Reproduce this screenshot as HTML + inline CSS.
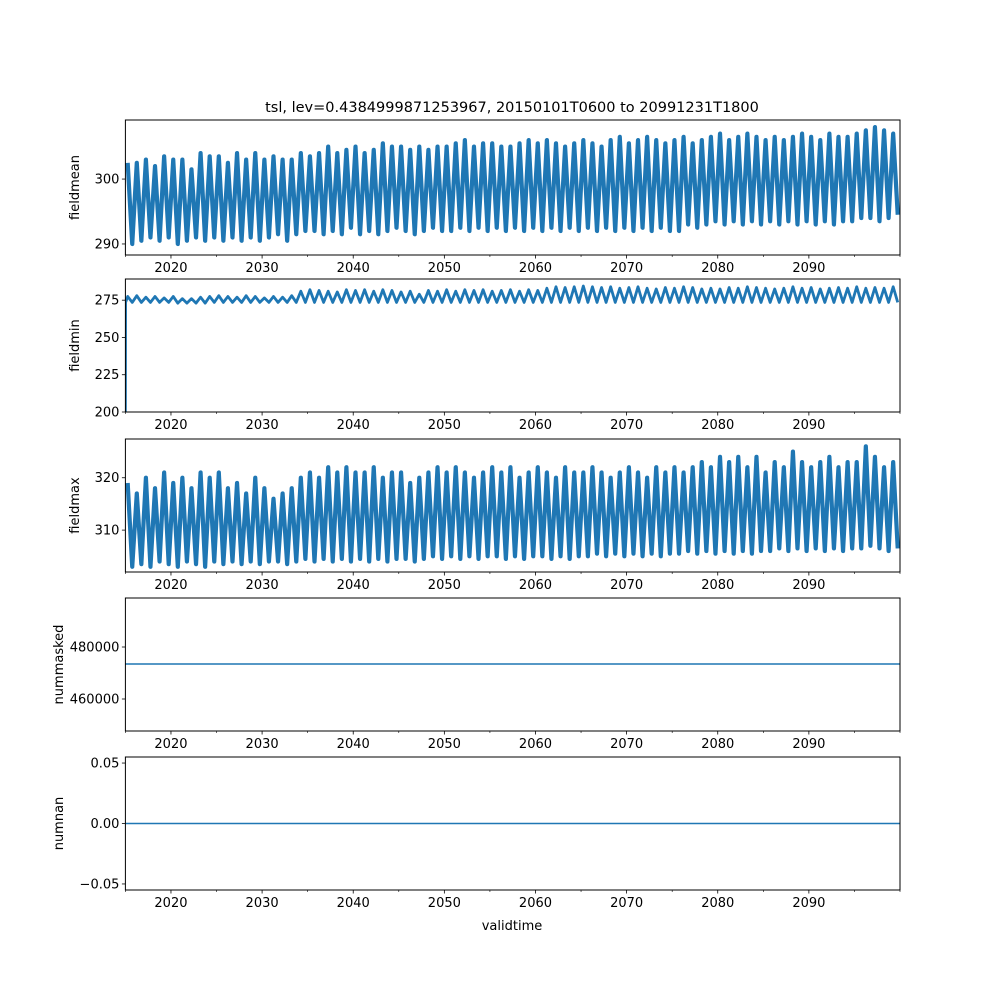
<!DOCTYPE html>
<html><head><meta charset="utf-8"><style>
body{margin:0;background:#fff}
svg{display:block;font-family:"DejaVu Sans","Liberation Sans",sans-serif}
</style></head><body>
<svg id="fig" width="1000" height="1000" viewBox="0 0 1000 1000">
<text x="512" y="112" text-anchor="middle" font-size="14.5">tsl, lev=0.4384999871253967, 20150101T0600 to 20991231T1800</text>
<text x="512" y="930" text-anchor="middle" font-size="13">validtime</text>
</svg>
<script>
const years=[];for(let y=2015;y<=2099;y++)years.push(y);
const xMajor=[2020,2030,2040,2050,2060,2070,2080,2090];
const xMinor=[2015,2025,2035,2045,2055,2065,2075,2085,2095,2100];
const meanMax=[302.5,302.5,303,302,303.5,303,303,301.5,304,303.5,303.5,302.5,304,303,304,303,303.5,303,303,304,303.5,304,305,304,304.5,305,304,304.5,305.5,305,305,304.5,305,304.5,305,305,305.5,306,305,305.5,305.5,305,305,305.5,306,305.5,306,305.5,305,305.5,306,305.5,305,306,306.5,305.5,306,306.5,306,305.5,306,306.5,305.5,306,306.5,307,306,306.5,307,306.5,306,306.5,306,306.5,307,306.5,306,307,306.5,306.5,307,307.5,308,307.5,307];
const meanMin=[290,290.5,291,290.5,291,290,290.5,291,290.5,291,290.5,291,290.5,291,290.5,291,291.5,290.5,291.5,292,292,291.5,292,291.5,292.5,291.5,292,291.5,292,292.5,292,291.5,292,292.5,292,292,292.5,292,292.5,292,292.5,292,292.5,292,292.5,292,292.5,292,292.5,292,292.5,292,292.5,292,292.5,292,292.5,292,292.5,292,292,293,292.5,293,293.5,293,293.5,293,293.5,293,293.5,293,293.5,293,293.5,293,293.5,293,293.5,293.5,294,294,293.5,294,294.5];
const minMax=[277.5,278,277,277.5,276.5,277.5,276,276,277,277.5,278,277.5,277,278,277.5,276.5,277.5,277,278,281,282,281.5,281,280.5,282,281.5,282,281,282,281.5,280.5,281,279,281.5,281,282,281,282,281.5,282,281,281.5,282,281,282,281.5,283,284,283.5,284,284.5,284,283.5,284,283,283.5,284,283,282.5,283.5,283,284,283.5,282.5,283,282.5,283.5,283,284,283.5,283,282.5,283,284,283,283.5,282.5,283,283.5,283,284,283,283.5,283,284];
const minMin=[273.5,273.5,273.5,273.5,273.5,273,273,273,273,273.5,273.5,273.5,273.5,273.5,273.5,273.5,273.5,273.5,273.5,273.5,273.5,273.5,273.5,273.5,273.5,273.5,273.5,273.5,273.5,273.5,273.5,273.5,273.5,273.5,273.5,273.5,273.5,273.5,273.5,273.5,273.5,273.5,273.5,273.5,273.5,273.5,273.5,273.5,273.5,273.5,273.5,273.5,273.5,273.5,273.5,273.5,273.5,273.5,273.5,273.5,273.5,273.5,273.5,273.5,273.5,273.5,273.5,273.5,273.5,273.5,273.5,273.5,273.5,273.5,273.5,273.5,273.5,273.5,273.5,273.5,273.5,273.5,273.5,273.5,273.5];
const minStart=200;
const maxMax=[319,317,320,318,321,319,320,318,321,320,321,318,319,317,320,318,316,317,318,320,321,320,322,321,322,321,321,322,320,321,321,319,320,321,322,321,322,321,320,321,322,321,322,320,321,322,321,320,322,321,321,322,321,320,321,322,321,320,322,321,322,321,322,323,322,324,323,324,322,324,321,323,322,325,323,322,323,324,322,323,323,326,324,322,323];
const maxMin=[303,303.5,303,304,303.5,303,304,303.5,303,304,303.5,304,303.5,304,303.5,304,304,303.5,304,304.5,304,304.5,304,304.5,304,304.5,304,304.5,304,304.5,304.5,304,304.5,305,304.5,305,304.5,305,304.5,305,305,304.5,305,304.5,305,305,304.5,305,304.5,305,305,305.5,305,305.5,305,305.5,305,305.5,305,305.5,305.5,306,305.5,306,305.5,306,305.5,306,305.5,306,306,306.5,306,306.5,306,306.5,306,306.5,306,306.5,306.5,307,306.5,306,306.5];
const maskedVal=[473460];
const nanVal=[0];

const svg=document.getElementById('fig');const NS='http://www.w3.org/2000/svg';
const X0=125.4,X1=900,T0=2015,T1=2100;
const xs=t=>X0+(t-T0)/(T1-T0)*(X1-X0);
function el(tag,attrs,parent){const e=document.createElementNS(NS,tag);for(const k in attrs)e.setAttribute(k,attrs[k]);(parent||svg).appendChild(e);return e;}
const panels=[
 {name:'fieldmean',top:120,bot:255,ymin:288.3,ymax:309.1,ticks:[290,300],lbl:v=>v},
 {name:'fieldmin',top:279,bot:412,ymin:200,ymax:289.2,ticks:[200,225,250,275],lbl:v=>v},
 {name:'fieldmax',top:439,bot:572,ymin:302,ymax:327.4,ticks:[310,320],lbl:v=>v},
 {name:'nummasked',top:598,bot:731,ymin:447690,ymax:498850,ticks:[460000,480000],lbl:v=>v},
 {name:'numnan',top:757,bot:890,ymin:-0.055,ymax:0.055,ticks:[-0.05,0,0.05],lbl:v=>v.toFixed(2).replace('-','\u2212')}
];
panels.forEach((p,pi)=>{
 const g=el('g',{});
 
 
 const ys=v=>p.bot-(v-p.ymin)/(p.ymax-p.ymin)*(p.bot-p.top);
 const clip=el('clipPath',{id:'c'+pi},g);el('rect',{x:X0,y:p.top,width:X1-X0,height:p.bot-p.top},clip);
 let d='';
 if(pi===0||pi===1||pi===2){
  const hi=[meanMax,minMax,maxMax][pi],lo=[meanMin,minMin,maxMin][pi];
  if(pi===1)d='M'+xs(2015)+','+ys(minStart)+' L'+xs(2015.02)+','+ys(lo[0]);
  years.forEach((y,i)=>{d+=(d?' L':'M')+xs(y+0.25)+','+ys(hi[i])+' L'+xs(y+0.75)+','+ys(lo[i]);});
  const line=el('path',{d:d,fill:'none',stroke:'#1f77b4','stroke-width':pi===1?2.8:4.2,'stroke-linejoin':'round','clip-path':'url(#c'+pi+')'},g);
  
  
 } else {
  const v=pi===3?maskedVal[0]:nanVal[0];
  const line=el('line',{x1:X0,x2:X1,y1:ys(v),y2:ys(v),stroke:'#1f77b4','stroke-width':1.5},g);
  
  
 }
 const fr=el('rect',{x:X0,y:p.top,width:X1-X0,height:p.bot-p.top,fill:'none',stroke:'#000','stroke-width':1},g);
 
 
 xMajor.forEach(t=>{el('line',{x1:xs(t),x2:xs(t),y1:p.bot,y2:p.bot+3.5,stroke:'#000','stroke-width':0.8},g);
  const tx=el('text',{x:xs(t),y:p.bot+17,'text-anchor':'middle','font-size':13},g);tx.textContent=t;
  
  });
 xMinor.forEach(t=>el('line',{x1:xs(t),x2:xs(t),y1:p.bot,y2:p.bot+2,stroke:'#000','stroke-width':0.6},g));
 p.ticks.forEach(v=>{const y=ys(v);el('line',{x1:X0-3.5,x2:X0,y1:y,y2:y,stroke:'#000','stroke-width':0.8},g);
  const tx=el('text',{x:X0-6,y:y+4.5,'text-anchor':'end','font-size':13},g);tx.textContent=p.lbl(v);
  
  });
 const cy=(p.top+p.bot)/2;const lx=pi>=3?63:79;
 const yl=el('text',{x:lx,y:cy,'text-anchor':'middle','font-size':13,transform:'rotate(-90 '+lx+' '+cy+')'},g);yl.textContent=p.name;
 
 
});
</script>
</body></html>
